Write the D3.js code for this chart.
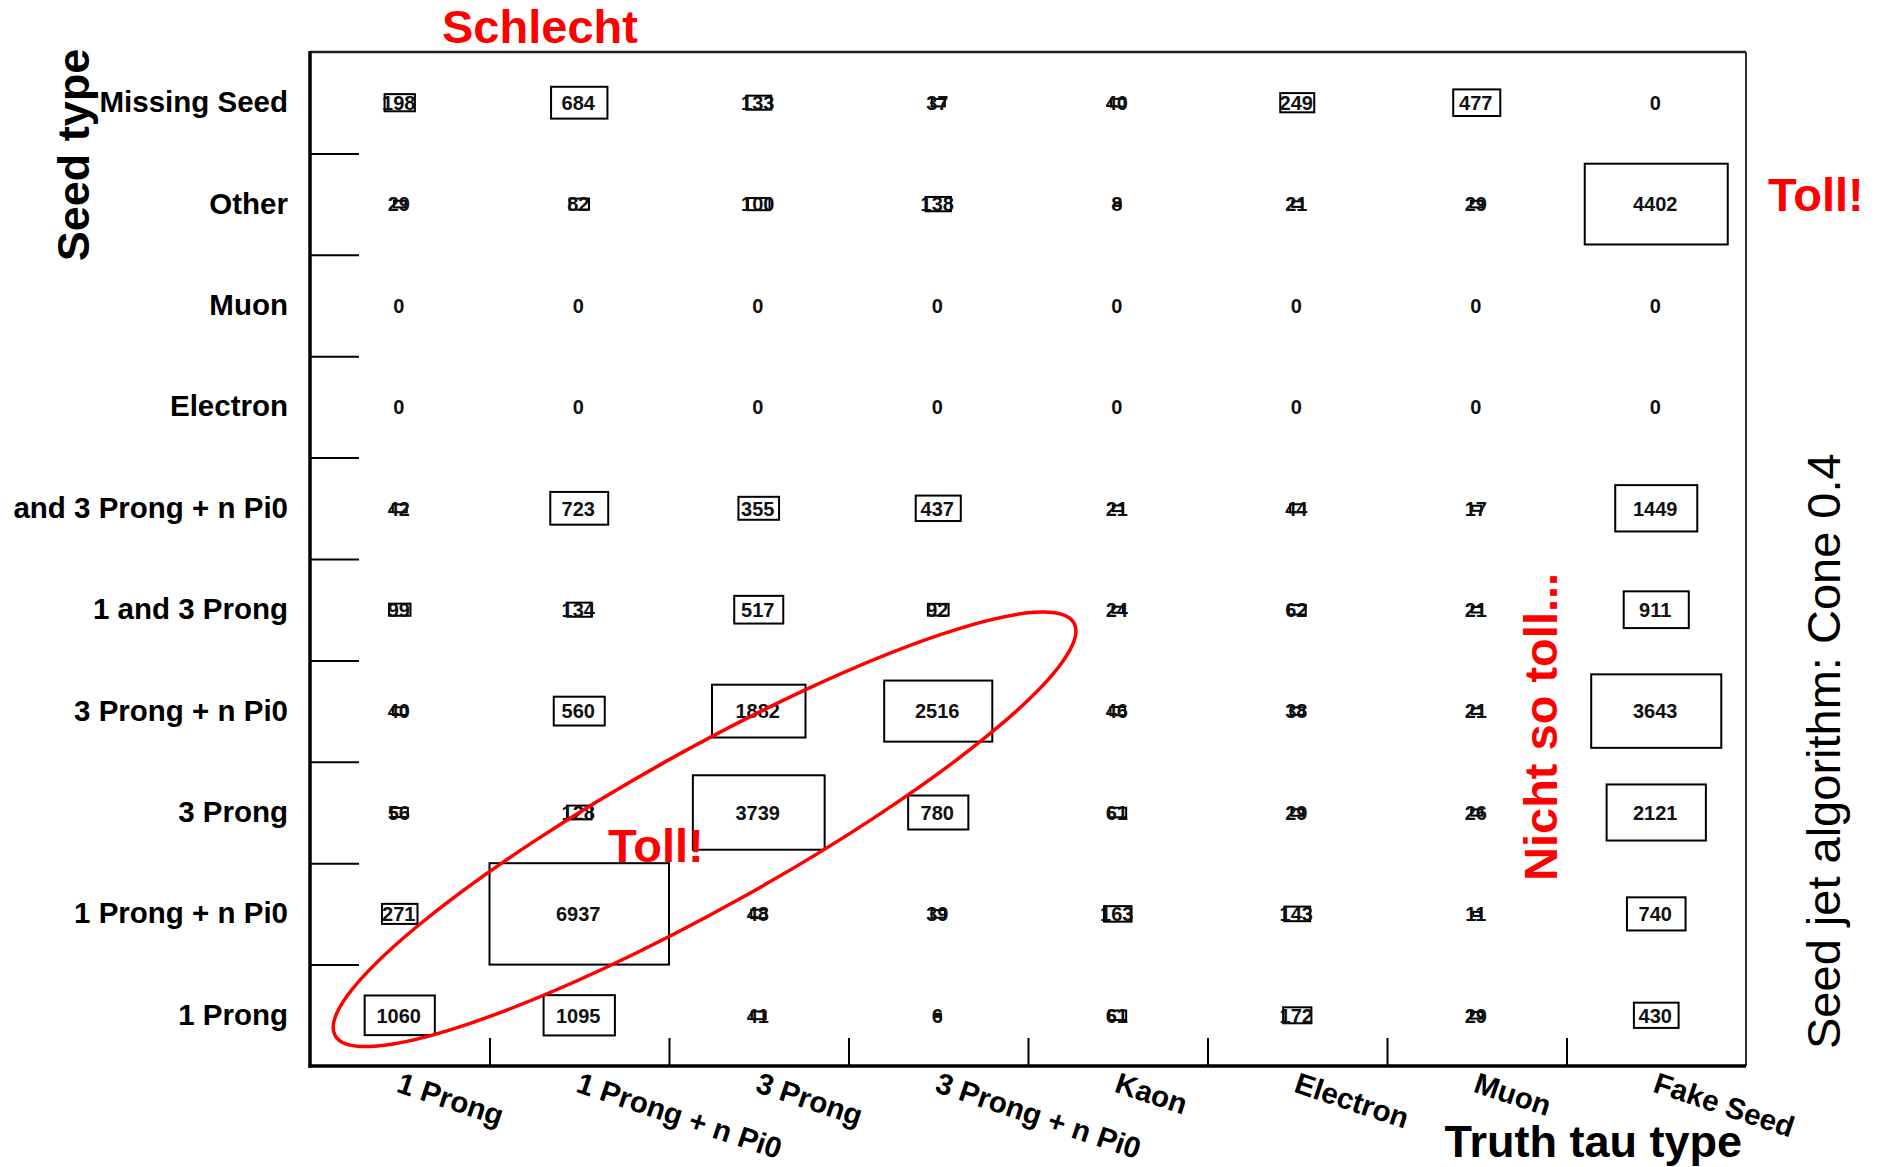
<!DOCTYPE html>
<html>
<head>
<meta charset="utf-8">
<script src="https://cdn.jsdelivr.net/npm/d3@7"></script>
<style>
  html, body { margin: 0; padding: 0; background: #fff; }
  svg { display: block; }
</style>
</head>
<body>
<svg id="chart" width="1880" height="1167"></svg>
<script>
// Truth tau decay type (columns) and reconstructed seed type (rows, top to bottom)
const truthTypes = ["1 Prong", "1 Prong + n Pi0", "3 Prong", "3 Prong + n Pi0",
                    "Kaon", "Electron", "Muon", "Fake Seed"];
const seedTypes = ["Missing Seed", "Other", "Muon", "Electron", "and 3 Prong + n Pi0",
                   "1 and 3 Prong", "3 Prong + n Pi0", "3 Prong", "1 Prong + n Pi0", "1 Prong"];

// Counts per seed type, one entry per truth type
const missingSeedCounts   = [198, 684, 133, 37, 40, 249, 477, 0];
const otherCounts         = [29, 82, 100, 138, 8, 21, 29, 4402];
const muonCounts          = [0, 0, 0, 0, 0, 0, 0, 0];
const electronCounts      = [0, 0, 0, 0, 0, 0, 0, 0];
const oneThreePi0Counts   = [42, 723, 355, 437, 21, 44, 17, 1449];
const oneThreeCounts      = [99, 134, 517, 92, 24, 62, 21, 911];
const threePi0Counts      = [40, 560, 1882, 2516, 46, 38, 21, 3643];
const threeProngCounts    = [56, 128, 3739, 780, 61, 29, 26, 2121];
const onePi0Counts        = [271, 6937, 48, 39, 163, 143, 11, 740];
const oneProngCounts      = [1060, 1095, 41, 6, 61, 172, 29, 430];

const countRows = [missingSeedCounts, otherCounts, muonCounts, electronCounts,
                   oneThreePi0Counts, oneThreeCounts, threePi0Counts,
                   threeProngCounts, onePi0Counts, oneProngCounts];

const cells = [];
seedTypes.forEach((s, r) => truthTypes.forEach((t, c) =>
  cells.push({ seed: s, truth: t, value: countRows[r][c] })));

const svg = d3.select("#chart");
const frame = { left: 310, right: 1746, top: 52, bottom: 1066 };
const font = "Liberation Sans, Arial, sans-serif";

const x = d3.scaleBand().domain(truthTypes).range([frame.left, frame.right]).padding(0);
const y = d3.scaleBand().domain(seedTypes).range([frame.top, frame.bottom]).padding(0);
// Continuous bin coordinates (bin i spans [i, i+1]) for ticks and annotations
const xBin = d3.scaleLinear().domain([0, truthTypes.length]).range([frame.left, frame.right]);
const yBin = d3.scaleLinear().domain([0, seedTypes.length]).range([frame.top, frame.bottom]);
// Box area proportional to the cell content
const boxScale = d3.scaleSqrt().domain([0, d3.max(cells, d => d.value)]).range([0, 1]);

// Boxes
svg.append("g")
  .selectAll("rect")
  .data(cells.filter(d => d.value > 0))
  .join("rect")
  .attr("x", d => x(d.truth) + x.bandwidth() * (1 - boxScale(d.value)) / 2)
  .attr("y", d => y(d.seed) + y.bandwidth() * (1 - boxScale(d.value)) / 2)
  .attr("width", d => x.bandwidth() * boxScale(d.value))
  .attr("height", d => y.bandwidth() * boxScale(d.value))
  .attr("fill", "none")
  .attr("stroke", "#000")
  .attr("stroke-width", 2);

// Cell values
svg.append("g")
  .attr("font-family", font)
  .attr("font-size", 20)
  .attr("font-weight", "bold")
  .attr("text-anchor", "middle")
  .selectAll("text")
  .data(cells)
  .join("text")
  .attr("x", d => x(d.truth) + x.bandwidth() / 2 - 1)
  .attr("y", d => y(d.seed) + y.bandwidth() / 2)
  .attr("dy", "0.36em")
  .attr("fill", "#111")
  .text(d => d.value);

// Frame
const frameG = svg.append("g").attr("fill", "none");
frameG.append("line").attr("x1", frame.left).attr("x2", frame.right)
  .attr("y1", frame.top).attr("y2", frame.top).attr("stroke", "#222").attr("stroke-width", 2.5);
frameG.append("line").attr("x1", frame.right).attr("x2", frame.right)
  .attr("y1", frame.top).attr("y2", frame.bottom).attr("stroke", "#333").attr("stroke-width", 2);

// Y axis: labels centred on rows, ticks on row boundaries
const yAxis = svg.append("g")
  .attr("transform", `translate(${frame.left},0)`)
  .call(d3.axisLeft(y).tickSize(0).tickPadding(22));
yAxis.select(".domain").remove();
yAxis.selectAll("text")
  .attr("font-family", font)
  .attr("font-size", 29.5)
  .attr("font-weight", "bold")
  .attr("fill", "#000");

svg.append("g")
  .attr("transform", `translate(${frame.left},0)`)
  .call(d3.axisRight(yBin).tickValues(d3.range(1, seedTypes.length)).tickSize(49).tickFormat(""))
  .call(g => g.select(".domain").remove())
  .call(g => g.selectAll("line").attr("stroke", "#000").attr("stroke-width", 2));

svg.append("line")
  .attr("x1", frame.left).attr("x2", frame.left)
  .attr("y1", frame.top - 1).attr("y2", frame.bottom + 1.5)
  .attr("stroke", "#000").attr("stroke-width", 3.5);

// X axis: ticks on column boundaries, rotated labels
svg.append("g")
  .attr("transform", `translate(0,${frame.bottom})`)
  .call(d3.axisTop(xBin).tickValues(d3.range(1, truthTypes.length)).tickSize(28).tickFormat(""))
  .call(g => g.select(".domain").remove())
  .call(g => g.selectAll("line").attr("stroke", "#000").attr("stroke-width", 2));

svg.append("line")
  .attr("x1", frame.left - 1.5).attr("x2", frame.right)
  .attr("y1", frame.bottom).attr("y2", frame.bottom)
  .attr("stroke", "#000").attr("stroke-width", 3.5);

svg.append("g")
  .attr("font-family", font)
  .attr("font-size", 29.5)
  .attr("font-weight", "bold")
  .selectAll("text")
  .data(truthTypes)
  .join("text")
  .attr("transform", d => `translate(${x(d) + x.bandwidth() / 2 + 3},${frame.bottom + 3}) rotate(18.5)`)
  .attr("dy", "0.8em")
  .attr("fill", "#000")
  .text(d => d);

// Axis titles
svg.append("text")
  .attr("x", frame.right - 4).attr("y", 1157)
  .attr("text-anchor", "end")
  .attr("font-family", font)
  .attr("font-size", 45).attr("font-weight", "bold")
  .text("Truth tau type");

svg.append("text")
  .attr("transform", "translate(89,155) rotate(-90)")
  .attr("text-anchor", "middle")
  .attr("font-family", font)
  .attr("font-size", 45).attr("font-weight", "bold")
  .text("Seed type");

svg.append("text")
  .attr("transform", "translate(1840,1049) rotate(-90)")
  .attr("font-family", font)
  .attr("font-size", 47)
  .text("Seed jet algorithm: Cone 0.4");

// Red annotations
const red = "#ff0000";
const ann = svg.append("g")
  .attr("fill", red)
  .attr("font-family", font)
  .attr("font-weight", "bold")
  .attr("font-size", 47);

ann.append("text").attr("x", 442).attr("y", 43).text("Schlecht");
ann.append("text").attr("x", xBin(8) + 22).attr("y", 211).text("Toll!");
ann.append("text").attr("x", 608).attr("y", 862).text("Toll!");
ann.append("text")
  .attr("transform", "translate(1557,881) rotate(-90)")
  .text("Nicht so toll...");

// Ellipse around the diagonal, placed in bin coordinates
const tipA = [xBin(0.14), yBin(9.70)];
const tipB = [xBin(4.256), yBin(5.63)];
const cx = (tipA[0] + tipB[0]) / 2, cy = (tipA[1] + tipB[1]) / 2;
const semiMajor = Math.hypot(tipB[0] - tipA[0], tipB[1] - tipA[1]) / 2;
const angle = Math.atan2(tipB[1] - tipA[1], tipB[0] - tipA[0]) * 180 / Math.PI;
svg.append("ellipse")
  .attr("transform", `translate(${cx},${cy}) rotate(${angle})`)
  .attr("rx", semiMajor)
  .attr("ry", 78)
  .attr("fill", "none")
  .attr("stroke", red)
  .attr("stroke-width", 3.5);
</script>
</body>
</html>
